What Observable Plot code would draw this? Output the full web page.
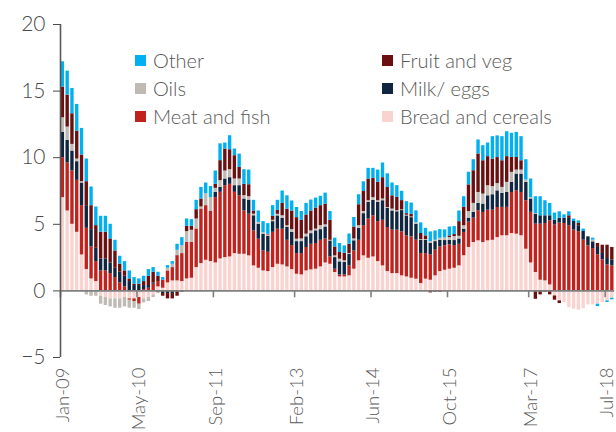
<!DOCTYPE html>
<html><head><meta charset="utf-8">
<script src="https://cdn.jsdelivr.net/npm/d3@7"></script>
<script src="https://cdn.jsdelivr.net/npm/@observablehq/plot@0.6"></script>
<style>
body{margin:0;background:#fff;}
#wrap{position:relative;width:616px;height:432px;font-family:Lato,"Open Sans",sans-serif;font-weight:300;}
.lg{position:absolute;display:flex;align-items:center;font-size:20px;color:#595959;white-space:nowrap;line-height:1;}
.lg i{display:inline-block;width:11px;height:11px;margin-right:7px;}
</style></head>
<body><div id="wrap"></div>
<script>
const months = d3.utcMonths(new Date(Date.UTC(2009,0,1)), new Date(Date.UTC(2018,8,1))).map(d3.utcFormat("%b-%y"));
const xTickLabels = ["Jan-09","May-10","Sep-11","Feb-13","Jun-14","Oct-15","Mar-17","Jul-18"];
const yTicks = [-5,0,5,10,15,20];
const series = ["Bread and cereals","Meat and fish","Milk/ eggs","Oils","Fruit and veg","Other"];
const colors = ["#f9d3d0","#c0221d","#0f2540","#bfbab4","#6b1010","#00b0f0"];

const bread = [7.0,6.0,5.0,4.4,2.7,1.6,0.9,0.7,-0.4,-0.5,-0.6,-0.6,-0.6,-0.5,-0.6,-0.6,-0.5,-0.6,-0.5,-0.3,
0.3,0.2,0.6,0.75,0.75,0.7,0.9,0.95,1.75,2.05,2.3,2.2,2.1,2.4,2.5,2.55,2.8,2.75,2.75,2.63,
1.88,1.7,1.5,1.45,1.75,2.0,1.95,1.8,1.6,1.25,1.2,1.5,1.58,1.63,1.8,2.1,2.0,1.38,1.05,1.05,
1.13,1.63,2.26,2.63,2.45,2.55,2.2,1.88,1.45,1.3,1.3,1.13,1.05,0.95,0.88,0.55,0.88,0.8,1.13,1.45,
1.55,1.63,1.7,1.88,2.64,3.26,3.63,3.76,3.63,3.76,3.8,4.0,4.14,4.14,4.31,4.26,4.14,3.13,2.1,1.38,
0.8,0.75,0.45,-0.38,-0.75,-0.88,-1.25,-1.38,-1.45,-1.33,-1.05,-1.05,-1.0,-0.88,-0.75,-0.55];
const meat = [3.0,3.6,4.0,3.9,3.7,3.1,2.4,1.5,1.5,1.5,1.3,1.0,0.6,0.3,-0.1,-0.2,-0.5,0.1,0.2,0.5,
0.4,0.6,0.9,1.0,1.9,2.1,2.75,2.7,2.9,4.1,4.1,3.76,4.9,5.0,5.4,5.45,4.6,4.4,3.25,3.13,
2.62,2.18,1.5,1.45,2.65,2.63,2.68,2.0,1.8,1.55,1.6,1.76,1.92,1.93,2.0,1.8,0.55,0.25,0.15,0.15,
0.75,1.37,1.54,2.27,2.95,3.09,3.0,3.42,3.31,3.26,3.26,3.3,3.08,3.1,2.93,2.25,1.92,1.9,1.93,1.85,
1.83,1.83,1.7,1.62,1.75,1.9,1.83,2.26,2.26,2.3,2.26,2.26,2.13,2.13,3.08,3.26,3.25,3.64,3.8,3.63,
4.21,4.31,4.81,4.94,5.09,5.06,4.89,4.56,4.44,3.81,3.38,3.18,2.71,2.33,1.95,1.88];
const milk = [1.9,1.7,1.5,1.4,1.7,1.7,1.3,1.0,0.9,0.9,0.8,0.7,0.8,0.8,0.7,0.4,0.4,0.3,0.2,0.1,
-0.1,-0.2,-0.2,-0.2,0,-0.1,0,0,0,0,0,0,0.4,0.38,0.5,0.5,0.5,0.75,0.9,1.06,
1.14,1.12,1.26,1.2,0.8,1.0,0.83,0.96,1.0,0.9,0.9,0.8,0.8,0.95,0.8,0.9,1.2,0.87,0.98,0.93,
0.88,0.76,0.9,0.9,1.24,1.16,1.44,1.47,1.45,1.44,1.38,1.6,1.5,1.45,1.2,1.0,1.0,0.86,0.64,0.5,
0.4,0.34,0.38,0.4,0.25,0.3,0.43,0.55,0.63,1.08,1.16,1.25,1.05,1.12,0.76,1.25,1.38,1.38,1.0,0.75,
0.63,0.58,0.38,0.37,0.37,0.4,0.55,0.65,0.45,0.65,0.68,0.5,0.55,0.48,0.48,0.43];
const oils = [1.1,1.0,0.5,0.2,0.1,-0.3,-0.4,-0.4,-0.6,-0.6,-0.6,-0.7,-0.7,-0.7,-0.6,-0.5,-0.4,-0.3,-0.3,-0.2,
-0.1,0,0.2,0.25,0.4,0.6,0.8,0.9,0.75,0.15,0.9,1.04,0.3,0.5,0.6,0.6,0.5,0.5,0.25,0.25,
0.12,0.14,0.1,0.1,0.1,0.12,0.18,0.13,0.2,0.18,0.2,0.2,0.2,0.13,0.3,0.16,0.05,0.13,0.2,0.13,
0.05,0.14,0.2,0.16,0.13,0.2,0.13,0.13,0.05,0.14,0.08,0.05,0.05,0.05,0.1,0.05,0.05,0.14,0.1,0.15,
0.2,0.2,0.3,0.2,0.25,0.5,0.68,0.82,0.75,0.76,0.61,0.55,0.45,0.76,0.75,0.3,0.3,0.17,0.1,0.05,
0,0,0,0,0,0,0,0,0,0,0,0.13,0,0,0,0];
const fruit = [2.3,2.4,2.3,2.1,2.0,1.8,1.8,1.7,2.0,2.0,1.8,1.3,0.6,0.4,0.2,0.1,0.1,0.3,0.7,0.8,
0.4,-0.2,-0.4,-0.4,-0.4,0,0.4,0.3,0.7,0.6,0,0,0.3,1.5,1.65,1.5,1.75,0.87,0.85,0.9,
0.24,0,0,0.05,0.3,0.3,0.93,1.25,1.4,1.62,1.4,1.44,1.5,1.58,1.5,1.54,1.5,0.67,0.5,0.57,
0.7,0.9,1.57,1.5,1.63,1.45,1.38,1.6,1.5,1.0,1.0,0.7,0.12,0.2,0,0.46,0.28,-0.15,-0.1,-0.1,
-0.05,0.13,0.15,1.1,1.38,2.0,2.45,2.89,2.5,2.18,2.07,1.95,2.0,1.93,1.12,0.95,0.7,0,0,-0.63,
-0.3,-0.1,-0.3,-0.32,-0.2,0,0.2,0,0.17,0,0,0,0.3,0.62,1.0,0.95];
const other = [1.9,1.8,1.9,2.0,2.0,1.7,1.4,1.4,1.2,1.2,1.1,0.8,0.6,0.7,0.6,0.5,0.4,0.4,0.5,0.35,
0.3,0.2,0.2,0.2,0.45,0.6,0.55,0.5,0.7,0.87,0.8,0.84,1.0,1.26,0.45,1.05,0.5,1.0,1.1,1.1,
0.8,0.86,0.84,0.8,0.8,0.75,0.93,1.0,0.75,0.76,0.66,0.87,0.82,0.75,0.7,0.84,0.66,0.66,0.68,0.55,
0.76,0.71,0.75,0.73,0.8,0.75,0.92,1.1,1.03,0.96,0.88,0.7,0.9,0.85,0.9,0.8,0.57,0.73,0.7,0.65,
0.6,0.67,0.6,0.8,0.8,0.95,0.83,1.05,1.13,1.02,1.68,1.63,1.81,1.87,1.81,1.88,1.81,1.53,1.4,1.26,
1.43,1.13,0.92,0.53,0.48,0.25,0.3,0.18,0.2,0.18,0,0.15,-0.18,0,-0.12,-0.12];

const values = [bread, meat, milk, oils, fruit, other];
const table = [];
series.forEach((s, k) => values[k].forEach((v, i) => table.push({month: months[i], series: s, value: v})));

const W = 616, H = 432, mL = 60, mR = 1.8, mT = 24, mB = 75;
const bw = (W - mL - mR) / months.length;

const chart = Plot.plot({
  width: W, height: H,
  marginLeft: mL, marginRight: mR, marginTop: mT, marginBottom: mB,
  style: {fontFamily: "Lato, 'Open Sans', sans-serif", fontWeight: 300, fontSize: "21px", color: "#4a4a4a", background: "#fff"},
  x: {type: "band", domain: months, padding: 0, axis: null},
  y: {domain: [-5, 20], ticks: yTicks, tickSize: 7, tickPadding: 8, label: null},
  color: {domain: series, range: colors},
  marks: [
    Plot.barY(table, Plot.stackY({x: "month", y: "value", fill: "series", order: series, insetLeft: 0.7, insetRight: 0.7})),
    Plot.ruleY([0], {stroke: "#7f7f7f", strokeWidth: 1.6}),
    Plot.ruleX(xTickLabels, {x: d => d, y1: 0, y2: -0.52, dx: -bw / 2, stroke: "#7f7f7f", strokeWidth: 1.6}),
    Plot.text(xTickLabels, {x: d => d, text: d => d, frameAnchor: "bottom", rotate: -90, textAnchor: "end", lineAnchor: "middle", dy: 10, fontSize: 18.5, fill: "#595959"}),
    Plot.ruleX([months[0]], {dx: -bw / 2, y1: -5, y2: 20, stroke: "#595959", strokeWidth: 1.6})
  ]
});

const wrap = document.getElementById("wrap");
wrap.appendChild(chart);

const legendItems = [
  {name: "Other", color: colors[5], x: 135, y: 60},
  {name: "Oils", color: colors[3], x: 135, y: 88},
  {name: "Meat and fish", color: colors[1], x: 135, y: 116},
  {name: "Fruit and veg", color: colors[4], x: 382, y: 60},
  {name: "Milk/ eggs", color: colors[2], x: 382, y: 88},
  {name: "Bread and cereals", color: colors[0], x: 382, y: 116}
];
legendItems.forEach(it => {
  const d = document.createElement("div");
  d.className = "lg";
  d.style.left = it.x + "px";
  d.style.top = (it.y - 10) + "px";
  d.style.height = "20px";
  d.innerHTML = `<i style="background:${it.color}"></i><span>${it.name}</span>`;
  wrap.appendChild(d);
});
</script>
</body></html>
